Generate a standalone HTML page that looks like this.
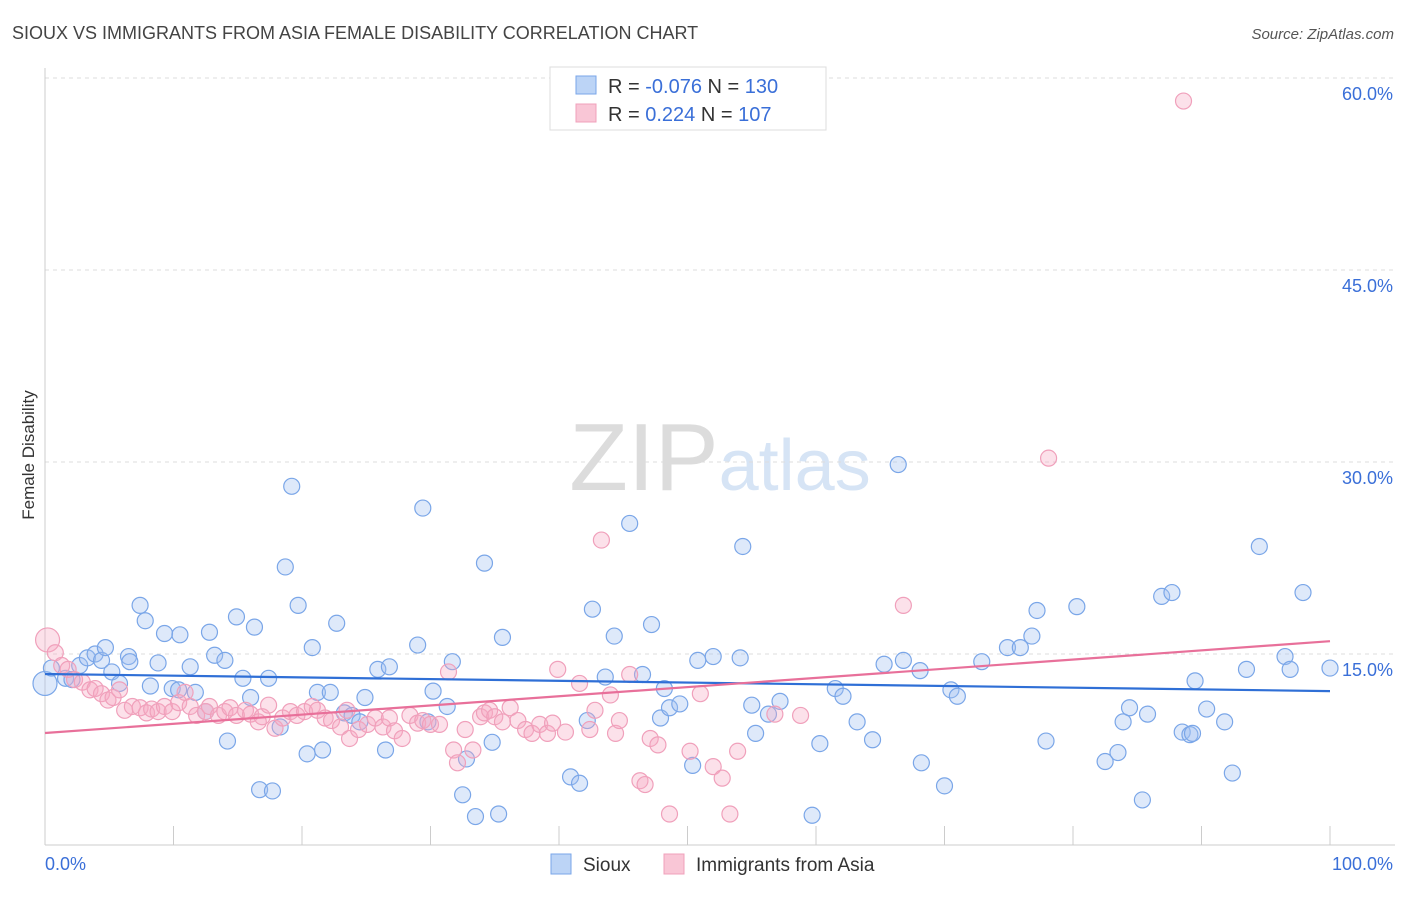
<!DOCTYPE html>
<html><head><meta charset="utf-8"><style>
body{margin:0;background:#fff;font-family:"Liberation Sans",sans-serif;}
svg text{font-family:"Liberation Sans",sans-serif;}
</style></head><body>
<svg id="chart" width="1406" height="892" viewBox="0 0 1406 892">
<text x="12" y="39" font-size="18" fill="#444">SIOUX VS IMMIGRANTS FROM ASIA FEMALE DISABILITY CORRELATION CHART</text>
<text x="1394" y="39" font-size="15" fill="#555" text-anchor="end" font-style="italic">Source: ZipAtlas.com</text>
<text x="720" y="490" font-size="96" fill="#e4e4e4" text-anchor="middle" font-family="Liberation Serif"><tspan fill="#dcdcdc">ZIP</tspan><tspan fill="#d6e4f5" font-family="Liberation Sans" font-size="72">atlas</tspan></text>
<g id="grid"></g>
<g id="axes"></g>
<g id="points"></g>
<g id="lines"></g>
<text transform="translate(34,455) rotate(-90)" font-size="17" fill="#333" text-anchor="middle">Female Disability</text>
<g>
<rect x="550" y="67" width="276" height="63" fill="#fff" stroke="#ddd"/>
<rect x="576" y="76" width="20" height="18" fill="#bcd4f6" stroke="#7aa6e8"/>
<rect x="576" y="104" width="20" height="18" fill="#f9c6d6" stroke="#f0a0bb"/>
<text x="608" y="93" font-size="20" fill="#333">R = <tspan fill="#3a6fd8">-0.076</tspan>   N = <tspan fill="#3a6fd8">130</tspan></text>
<text x="608" y="121" font-size="20" fill="#333">R =   <tspan fill="#3a6fd8">0.224</tspan>   N = <tspan fill="#3a6fd8">107</tspan></text>
</g>
<g>
<rect x="551" y="854" width="20" height="20" fill="#bcd4f6" stroke="#7aa6e8"/>
<text x="583" y="871" font-size="19" fill="#333">Sioux</text>
<rect x="664" y="854" width="20" height="20" fill="#f9c6d6" stroke="#f0a0bb"/>
<text x="696" y="871" font-size="19" fill="#333">Immigrants from Asia</text>
</g>
</svg>
<script>
const yTicks=[15,30,45,60];
const yTickLabels=["15.0%","30.0%","45.0%","60.0%"];
const xTickVals=[0,10,20,30,40,50,60,70,80,90,100];
const blueX=[0,0.5,1.6,2.1,2.7,3.3,3.9,4.4,4.7,5.2,5.8,6.5,6.6,7.4,7.8,8.2,8.8,9.3,9.9,10.5,10.4,11.3,11.7,12.5,12.8,13.2,14.0,14.2,14.9,15.4,16.0,16.3,16.7,17.4,17.7,18.3,18.7,19.2,19.7,20.4,20.8,21.2,21.6,22.2,22.7,23.3,23.9,24.5,24.9,25.9,26.5,26.8,29.0,29.4,29.8,30.2,31.3,31.7,32.5,32.8,33.5,34.2,34.8,35.3,35.6,40.9,41.6,42.2,42.6,43.6,44.3,45.5,46.5,47.2,47.9,48.2,48.6,49.4,50.4,50.8,52.0,54.1,54.3,55.0,55.3,56.3,57.2,59.7,60.3,61.5,62.1,63.2,64.4,65.3,66.4,66.8,68.1,68.2,70.0,70.5,71.0,72.9,74.9,75.9,76.8,77.2,77.9,80.3,82.5,83.5,83.9,84.4,85.4,85.8,86.9,87.7,88.5,89.1,89.3,89.5,90.4,91.8,92.4,93.5,94.5,96.5,96.9,97.9,100];
const blueY=[12.7,13.9,13.1,13.0,14.1,14.7,15.0,14.5,15.5,13.6,12.7,14.8,14.4,18.8,17.6,12.5,14.3,16.6,12.3,16.5,12.2,14.0,12.0,10.5,16.7,14.9,14.5,8.2,17.9,13.1,11.6,17.1,4.4,13.1,4.3,9.3,21.8,28.1,18.8,7.2,15.5,12.0,7.5,12.0,17.4,10.4,10.2,9.7,11.6,13.8,7.5,14.0,15.7,26.4,9.7,12.1,10.9,14.4,4.0,6.8,2.3,22.1,8.1,2.5,16.3,5.4,4.9,9.8,18.5,13.2,16.4,25.2,13.4,17.3,10.0,12.3,10.8,11.1,6.3,14.5,14.8,14.7,23.4,11.0,8.8,10.3,11.3,2.4,8.0,12.3,11.7,9.7,8.3,14.2,29.8,14.5,13.7,6.5,4.7,12.2,11.7,14.4,15.5,15.5,16.4,18.4,8.2,18.7,6.6,7.3,9.7,10.8,3.6,10.3,19.5,19.8,8.9,8.7,8.8,12.9,10.7,9.7,5.7,13.8,23.4,14.8,13.8,19.8,13.9];
const pinkX=[0.2,0.8,1.3,1.8,2.3,2.9,3.5,3.9,4.4,4.9,5.3,5.8,6.2,6.8,7.4,7.9,8.3,8.8,9.3,9.9,10.4,10.9,11.3,11.8,12.5,12.8,13.5,14.0,14.4,14.9,15.6,16.0,16.6,16.9,17.4,17.9,18.5,19.1,19.6,20.2,20.8,21.2,21.8,22.3,23.0,23.5,23.7,24.4,25.1,25.7,26.3,26.8,27.2,27.8,28.4,29.0,29.4,30.0,30.7,31.4,31.8,32.1,32.7,33.3,33.9,34.2,34.6,35.0,35.6,36.2,36.8,37.4,37.9,38.5,39.1,39.5,39.9,40.5,41.6,42.4,42.8,43.3,44.0,44.4,44.7,45.5,46.3,46.7,47.1,47.7,48.6,50.2,51.0,52.0,52.7,53.3,53.9,56.8,58.8,66.8,78.1,88.6];
const pinkY=[16.1,15.1,14.1,13.8,13.0,12.8,12.2,12.3,11.9,11.4,11.6,12.2,10.6,10.9,10.8,10.4,10.7,10.5,10.9,10.5,11.2,12.0,10.9,10.2,10.5,10.9,10.2,10.5,10.8,10.2,10.6,10.3,9.7,10.1,11.0,9.2,10.0,10.5,10.2,10.5,10.9,10.6,10.0,9.8,9.3,10.6,8.4,9.1,9.5,10.0,9.3,10.0,9.0,8.4,10.2,9.6,9.8,9.5,9.5,13.6,7.5,6.5,9.1,7.5,10.1,10.4,10.6,10.1,9.7,10.8,9.8,9.1,8.8,9.5,8.8,9.6,13.8,8.9,12.7,9.1,10.6,23.9,11.8,8.8,9.8,13.4,5.1,4.8,8.4,7.9,2.5,7.4,11.9,6.2,5.3,2.5,7.4,10.3,10.2,18.8,30.3,58.2];
const blueTrend=[13.44,12.1];
const pinkTrend=[8.83,16.0];
const NS="http://www.w3.org/2000/svg";
const xS=v=>45+v*12.85;
const yS=v=>846-v*12.8;
function mk(tag,attrs,parent){const e=document.createElementNS(NS,tag);for(const k in attrs)e.setAttribute(k,attrs[k]);parent.appendChild(e);return e;}
const grid=document.getElementById('grid'),axes=document.getElementById('axes'),pts=document.getElementById('points'),lines=document.getElementById('lines');
yTicks.forEach((t,i)=>{
 const l=mk('line',{x1:45,x2:1395,y1:yS(t),y2:yS(t),stroke:'#ddd','stroke-dasharray':'4,4'},grid);
 
 
 const tx=mk('text',{x:1393,y:yS(t)+22,'font-size':18,fill:'#3a6fd8','text-anchor':'end'},axes);
 tx.textContent=yTickLabels[i];
 
 
});
const yl=mk('line',{x1:45,x2:45,y1:68,y2:845,stroke:'#ccc'},axes);


const xl=mk('line',{x1:45,x2:1395,y1:845,y2:845,stroke:'#ccc'},axes);


xTickVals.forEach(v=>{
 const t=mk('line',{x1:xS(v),x2:xS(v),y1:826,y2:845,stroke:'#ccc'},axes);
 
 
});
const x0=mk('text',{x:45,y:870,'font-size':18,fill:'#3a6fd8'},axes);x0.textContent='0.0%';


const x1=mk('text',{x:1393,y:870,'font-size':18,fill:'#3a6fd8','text-anchor':'end'},axes);x1.textContent='100.0%';


function drawSeries(xs,ys,fill,stroke,name){
 xs.forEach((x,i)=>{
  const r=(x<0.3)?12:8;
  const c=mk('circle',{cx:xS(x),cy:yS(ys[i]),r:r,fill:fill,stroke:stroke,'stroke-width':1.2},pts);
  
  
 });
}
drawSeries(blueX,blueY,'rgba(160,192,240,0.35)','#7aa6e8','sioux-point');
drawSeries(pinkX,pinkY,'rgba(245,168,195,0.35)','#f0a0bb','asia-point');
const bl=mk('line',{x1:xS(0),x2:xS(100),y1:yS(blueTrend[0]),y2:yS(blueTrend[1]),stroke:'#2f6fd6','stroke-width':2.2},lines);


const pl=mk('line',{x1:xS(0),x2:xS(100),y1:yS(pinkTrend[0]),y2:yS(pinkTrend[1]),stroke:'#e8709a','stroke-width':2.2},lines);


</script>
</body></html>
